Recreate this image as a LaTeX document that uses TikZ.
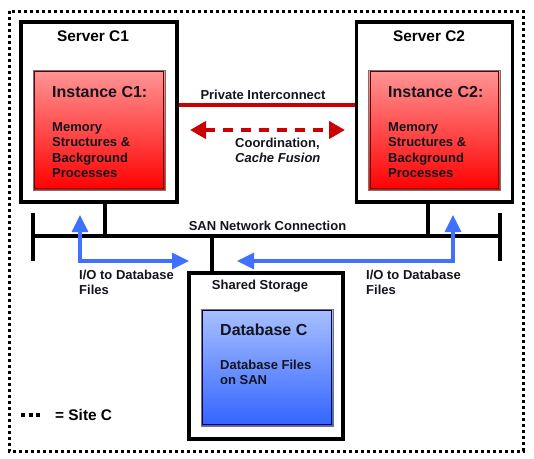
\documentclass[tikz,border=0pt]{standalone}
\usepackage{fontspec}
\setmainfont{Liberation Sans}
\usetikzlibrary{arrows.meta,calc}
\definecolor{redtop}{RGB}{255,150,150}
\definecolor{redbot}{RGB}{255,0,0}
\definecolor{bluetop}{RGB}{168,192,255}
\definecolor{bluebot}{RGB}{50,100,255}
\definecolor{linkred}{RGB}{204,0,0}
\definecolor{iob}{RGB}{64,112,255}
\definecolor{txt}{RGB}{20,20,30}
\tikzset{
  server/.style={draw=black, line width=3.5pt, fill=white, minimum width=156pt, minimum height=180pt, inner sep=0pt},
  storebox/.style={draw=black, line width=3.5pt, fill=white, minimum width=154pt, minimum height=166pt, inner sep=0pt},
  inst/.style={draw=black!55, line width=1pt, top color=redtop, bottom color=redbot, minimum width=132pt, minimum height=120pt, inner sep=0pt},
  dbbox/.style={draw=black!55, line width=1pt, top color=bluetop, bottom color=bluebot, minimum width=132pt, minimum height=117pt, inner sep=0pt},
  lbl/.style={font=\bfseries\fontsize{13}{15.3}\selectfont, text=txt, inner sep=0pt},
  ttl/.style={font=\bfseries\fontsize{16}{18}\selectfont, text=txt, inner sep=0pt},
  srv/.style={font=\bfseries\fontsize{15.4}{18}\selectfont, text=black, inner sep=0pt},
  bus/.style={line width=4pt, black},
  conn/.style={line width=3.3pt, black},
  ioarrow/.style={line width=3.3pt, iob, {Triangle[length=17pt,width=16pt]}-{Triangle[length=17pt,width=16pt]}},
  sitebox/.style={line width=3pt, dash pattern=on 3pt off 3pt}
}
\begin{document}
\begin{tikzpicture}[x=1pt,y=-1pt]
\useasboundingbox (0,0) rectangle (534,458);
% site border
\draw[sitebox] (9,11) rectangle (523,451);
% servers
\node[server] (sC1) at (99,112) {};
\node[server] (sC2) at (434.5,112) {};
\node[srv] (tC1) at (93,36) {Server C1};
\node[srv] (tC2) at (429,36) {Server C2};
% instances
\node[inst] (iC1) at (99,130) {};
\draw[draw=red!40!black, line width=0.9pt] ([shift={(2.2,2.2)}]iC1.north west) rectangle ([shift={(-2.2,-2.2)}]iC1.south east);
\node[inst] (iC2) at (434.5,130) {};
\draw[draw=red!40!black, line width=0.9pt] ([shift={(2.2,2.2)}]iC2.north west) rectangle ([shift={(-2.2,-2.2)}]iC2.south east);
\node[ttl, anchor=west] (nC1) at (52,92) {Instance C1:};
\node[ttl, anchor=west] (nC2) at (388,92) {Instance C2:};
\node[lbl, anchor=west, align=left] (mC1) at (52,150) {Memory\\Structures \&\\Background\\Processes};
\node[lbl, anchor=west, align=left] (mC2) at (388,150) {Memory\\Structures \&\\Background\\Processes};
% private interconnect
\coordinate (pi) at (0,105);
\draw[linkred, line width=3.3pt] (sC1.east |- pi) -- (sC2.west |- pi);
\node[lbl] (piL) at (263,95) {Private Interconnect};
\coordinate (cfL) at (190,130);
\coordinate (cfR) at (345,130);
\draw[linkred, line width=4.5pt, dash pattern=on 10pt off 8pt, {Triangle[length=16pt,width=17pt]}-{Triangle[length=16pt,width=17pt]}] (cfL) -- (cfR);
\node[lbl, anchor=west, align=left] (cf) at (235,150.5) {Coordination,\\\itshape Cache Fusion};
% SAN bus
\coordinate (busL) at (33,236);
\coordinate (busR) at (500,236);
\draw[bus] (busL) -- (busR);
\draw[bus] ($(busL)+(0,-23)$) -- ($(busL)+(0,25)$);
\draw[bus] ($(busR)+(0,-23)$) -- ($(busR)+(0,25)$);
\node[lbl] (san) at (267.5,226) {SAN Network Connection};
\coordinate (j1) at (105,236);
\coordinate (j2) at (428,236);
\coordinate (j3) at (212,236);
\draw[conn] (j1 |- sC1.south) -- (j1);
\draw[conn] (j2 |- sC2.south) -- (j2);
% storage
\node[storebox] (st) at (266,356) {};
\draw[conn] (j3) -- (j3 |- st.north);
\node[lbl] (stL) at (260,286) {Shared Storage};
\node[dbbox] (db) at (267,367.5) {};
\draw[draw=blue!30!black, line width=0.9pt] ([shift={(2.2,2.2)}]db.north west) rectangle ([shift={(-2.2,-2.2)}]db.south east);
\node[ttl, anchor=west] (dbT) at (220,330) {Database C};
\node[lbl, anchor=west, align=left] (dbF) at (220,372.5) {Database Files\\on SAN};
% I/O arrows
\coordinate (ioA) at (80,215);
\coordinate (ioB) at (189,261);
\coordinate (ioC) at (237,261);
\coordinate (ioD) at (453,215);
\draw[ioarrow] (ioA) |- (ioB);
\draw[ioarrow] (ioC) -| (ioD);
\node[lbl, anchor=west, align=left] (io1) at (79,282) {I/O to Database\\Files};
\node[lbl, anchor=west, align=left] (io2) at (366,282) {I/O to Database\\Files};
% legend
\coordinate (lg1) at (21,415);
\coordinate (lg2) at (41,415);
\draw[line width=3.5pt, dash pattern=on 4pt off 3.5pt] (lg1) -- (lg2);
\node[srv, anchor=west] (lgT) at (55,415) {= Site C};
\end{tikzpicture}
\end{document}
